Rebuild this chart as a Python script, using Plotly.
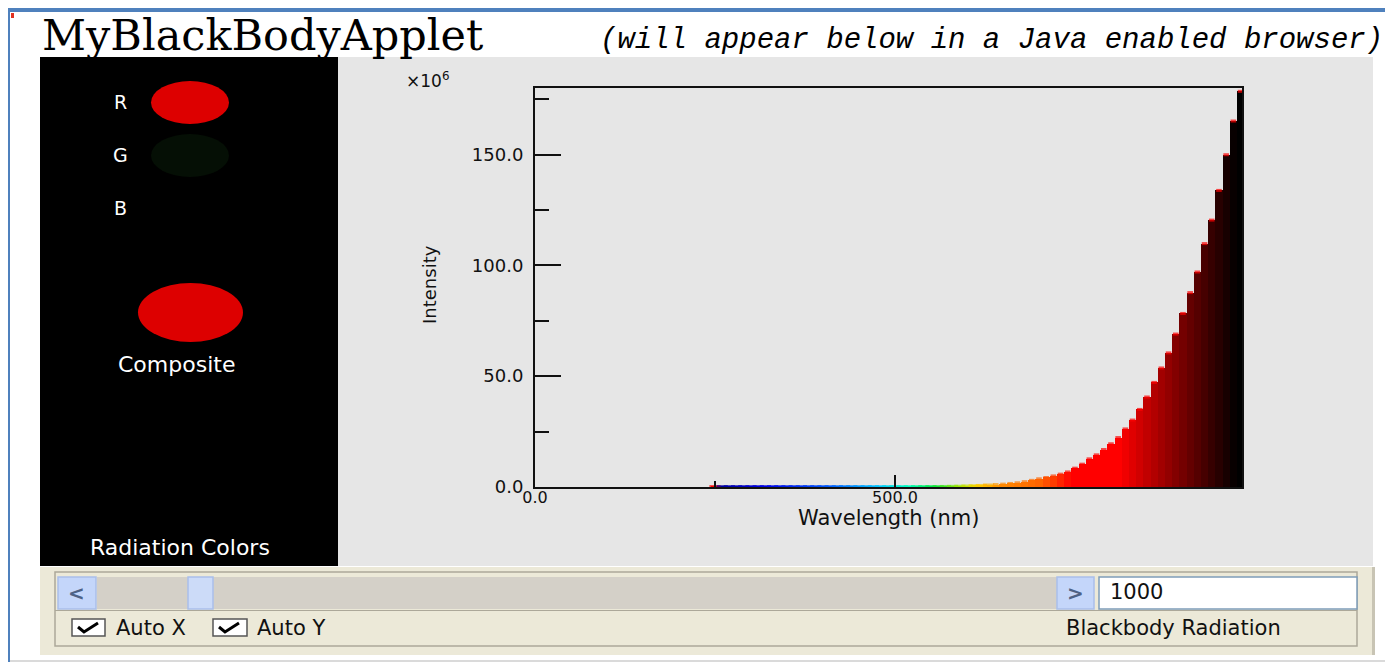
import plotly.graph_objects as go

# ── Dati (intensità in unità di 10^6) ───────────────────────────────────────
WAVELENGTH_NM = [
    250, 260, 270, 280, 290, 300, 310, 320, 330, 340,
    350, 360, 370, 380, 390, 400, 410, 420, 430, 440,
    450, 460, 470, 480, 490, 500, 510, 520, 530, 540,
    550, 560, 570, 580, 590, 600, 610, 620, 630, 640,
    650, 660, 670, 680, 690, 700, 710, 720, 730, 740,
    750, 760, 770, 780, 790, 800, 810, 820, 830, 840,
    850, 860, 870, 880, 890, 900, 910, 920, 930, 940,
    950, 960, 970, 980,
]
INTENSITY_E6 = [
    0.2, 0.2, 0.2, 0.2, 0.2, 0.2, 0.2, 0.2, 0.2, 0.2,
    0.2, 0.2, 0.2, 0.2, 0.2, 0.2, 0.2, 0.2, 0.2, 0.2,
    0.2, 0.2, 0.2, 0.2, 0.2, 0.2, 0.2, 0.2, 0.2, 0.2,
    0.2, 0.2, 0.25, 0.3, 0.35, 0.45, 0.55, 0.7, 0.9, 1.1,
    1.3, 1.6, 1.9, 2.4, 3.0, 3.7, 4.3, 5.0, 5.8, 6.8,
    8.5, 10.3, 12.7, 14.5, 16.9, 19.5, 22.3, 26.2, 30.2, 35.0,
    40.6, 47.2, 53.7, 60.5, 69.0, 78.3, 87.7, 97.0, 109.8, 120.4,
    133.8, 149.9, 165.1, 178.5,
]
X_TICKS = [0, 500]
X_MINOR = [250]
Y_TICKS = [0, 50, 100, 150]
Y_MINOR = [25, 75, 125, 175]
TEMPERATURE = "1000"

# ── Geometria (pixel della pagina; il body html ha 8px di margine) ─────────
OFF = 8
W, H = 1393 - OFF, 667 - OFF
PL, PR, PT, PB = 535, 1242, 88, 487

SANS = "DejaVu Sans"
INK = "#111111"
XP_BEIGE = "#ECE9D8"
XP_LINE = "#ACA899"
XP_BLUE = "#C4D6FA"

# colori spettrali come appaiono nell'applet
SPEC_STOPS = [
    (250, (0, 0, 150)), (320, (0, 0, 230)), (410, (0, 90, 255)),
    (480, (0, 200, 255)), (520, (0, 255, 190)), (555, (0, 230, 60)),
    (590, (160, 230, 0)), (615, (255, 210, 0)), (645, (255, 140, 0)),
    (700, (255, 100, 0)), (720, (255, 60, 0)), (745, (255, 0, 0)),
]


def spec_rgb(nm):
    if nm < 255:
        return (255, 0, 0)
    if nm >= SPEC_STOPS[-1][0]:
        return SPEC_STOPS[-1][1]
    for (a, ca), (b, cb) in zip(SPEC_STOPS, SPEC_STOPS[1:]):
        if a <= nm <= b:
            t = (nm - a) / (b - a)
            return tuple(round(p + (q - p) * t) for p, q in zip(ca, cb))
    return SPEC_STOPS[0][1]


def rgb(c, k=1.0):
    return "rgb(%d,%d,%d)" % tuple(round(v * k) for v in c)


def dark_factor(nm):
    # l'infrarosso viene scurito fino al nero
    return min(1.0, max(0.0, (975 - nm) / (975 - 810)))


def px(x):
    return (x - PL) / (PR - PL)


def py(y):
    return (PB - y) / (PB - PT)


def rect(x0, y0, x1, y1, fill=None, line=None, lw=1, layer="above"):
    return dict(type="rect", xref="paper", yref="paper",
                x0=px(x0), x1=px(x1), y0=py(y1), y1=py(y0),
                fillcolor=fill or "rgba(0,0,0,0)",
                line=dict(color=line or "rgba(0,0,0,0)", width=lw if line else 0),
                layer=layer)


def ellipse(x0, y0, x1, y1, fill):
    return dict(type="circle", xref="paper", yref="paper",
                x0=px(x0), x1=px(x1), y0=py(y1), y1=py(y0),
                fillcolor=fill, line=dict(width=0), layer="above")


def check(x0, y0):
    pts = [(x0 + 6, y0 + 8), (x0 + 12, y0 + 13), (x0 + 26, y0 + 4)]
    path = "M " + " L ".join("%f,%f" % (px(a), py(b)) for a, b in pts)
    return dict(type="path", xref="paper", yref="paper", path=path,
                line=dict(color="#000000", width=3), layer="above")


def ann(text, x, y, size=20, color=INK, xanchor="center", family=SANS,
        angle=0, yanchor="middle"):
    return dict(text=text, x=px(x), y=py(y), xref="paper", yref="paper",
                showarrow=False, xanchor=xanchor, yanchor=yanchor,
                textangle=angle, font=dict(family=family, size=size, color=color))


fill_colors = [rgb(spec_rgb(w), dark_factor(w)) for w in WAVELENGTH_NM]
edge_colors = [rgb(spec_rgb(w)) for w in WAVELENGTH_NM]
edge_sizes = [8 if v < 1 else 4 for v in INTENSITY_E6]

fig = go.Figure()
fig.add_trace(go.Bar(
    x=WAVELENGTH_NM, y=INTENSITY_E6, width=10,
    marker=dict(color=fill_colors, line=dict(width=0)),
    hovertemplate="%{x} nm: %{y:.1f}×10⁶<extra></extra>",
))
fig.add_trace(go.Scatter(
    x=WAVELENGTH_NM, y=INTENSITY_E6, mode="markers", cliponaxis=False,
    marker=dict(symbol="line-ew", size=edge_sizes,
                line=dict(color=edge_colors, width=3)),
    hoverinfo="skip",
))

shapes = [
    # cornice della pagina
    rect(OFF, OFF, 1393, 12, fill="#4F81BD", layer="below"),
    rect(OFF, OFF, 10, 662, fill="#4F81BD", layer="below"),
    rect(10, 660, 1393, 662, fill="#DADADA", layer="below"),
    rect(11, 13, 14, 18, fill="#E03020", layer="below"),
    # applet
    rect(338, 57, 1373, 566, fill="#E6E6E6", layer="below"),
    rect(40, 57, 338, 566, fill="#000000", layer="below"),
    ellipse(151, 81, 229, 124, "#DD0000"),
    ellipse(151, 134, 229, 177, "#050F05"),
    ellipse(138, 283, 243, 342, "#DD0000"),
    # pannello controlli
    rect(40, 567, 1373, 655, fill=XP_BEIGE, layer="below"),
    rect(1372, 567, 1375, 655, fill="#C8C4B4", layer="below"),
    rect(55, 572, 1357, 646, line=XP_LINE, lw=1.5),
    rect(55, 610, 1357, 611, fill=XP_LINE),
    rect(97, 577, 1057, 609, fill="#D4D0C8"),
    rect(58, 577, 96, 609, fill=XP_BLUE, line="#A9BFEA", lw=1.5),
    rect(188, 577, 213, 609, fill="#CCDBF8", line="#A9BFEA", lw=1.5),
    rect(1057, 577, 1094, 609, fill=XP_BLUE, line="#A9BFEA", lw=1.5),
    rect(1099, 577, 1357, 609, fill="#FFFFFF", line="#7F9DB9", lw=1.5),
    rect(72, 619, 105, 636, fill="#FFFFFF", line="#555555", lw=1.5),
    rect(213, 619, 247, 636, fill="#FFFFFF", line="#555555", lw=1.5),
    check(72, 619),
    check(213, 619),
]

annotations = [
    ann("MyBlackBodyApplet", 40, 35, size=43, color="#000000",
        xanchor="left", family="DejaVu Serif"),
    ann("<i>(will appear below in a Java enabled browser)</i>", 598, 40,
        size=29, color="#000000", xanchor="left", family="Liberation Mono"),
    ann("R", 120, 102, size=19, color="#FFFFFF"),
    ann("G", 120, 155, size=19, color="#FFFFFF"),
    ann("B", 120, 208, size=19, color="#FFFFFF"),
    ann("Composite", 177, 364, size=22, color="#FFFFFF"),
    ann("Radiation Colors", 180, 547, size=22, color="#FFFFFF"),
    ann("×10<sup>6</sup>", 404, 80, size=17, xanchor="left"),
    ann("Intensity", 429, 285, size=18, angle=-90),
    ann("Wavelength (nm)", 888, 518, size=21),
    ann("<b>&lt;</b>", 77, 593, size=20, color="#4D6185"),
    ann("<b>&gt;</b>", 1075, 593, size=20, color="#4D6185"),
    ann(TEMPERATURE, 1108, 592, size=21, xanchor="left"),
    ann("Auto X", 114, 628, size=21, xanchor="left"),
    ann("Auto Y", 255, 628, size=21, xanchor="left"),
    ann("Blackbody Radiation", 1173, 628, size=21),
]

fig.update_layout(
    width=W, height=H,
    margin=dict(l=PL - OFF, r=1393 - PR, t=PT - OFF, b=667 - PB, pad=0),
    paper_bgcolor="#FFFFFF",
    plot_bgcolor="#E6E6E6",
    showlegend=False,
    bargap=0,
    shapes=shapes,
    annotations=annotations,
    xaxis=dict(
        range=[0, 982], showgrid=False, zeroline=False,
        showline=True, linecolor=INK, linewidth=1.5, mirror=True,
        ticks="inside", ticklen=12, tickwidth=1.5, tickcolor=INK,
        tickvals=X_TICKS, tickformat=".1f", ticklabelstandoff=-5,
        tickfont=dict(family=SANS, size=16, color=INK),
        minor=dict(tickvals=X_MINOR, ticks="inside", ticklen=6,
                   tickwidth=1.5, tickcolor=INK),
    ),
    yaxis=dict(
        range=[0, 180], showgrid=False, zeroline=False,
        showline=True, linecolor=INK, linewidth=2, mirror=True,
        ticks="inside", ticklen=26, tickwidth=1.5, tickcolor=INK,
        tickvals=Y_TICKS, tickformat=".1f", ticklabelstandoff=6,
        tickfont=dict(family=SANS, size=18, color=INK),
        minor=dict(tickvals=Y_MINOR, ticks="inside", ticklen=14,
                   tickwidth=1.5, tickcolor=INK),
    ),
)

fig.write_html("out.html")
